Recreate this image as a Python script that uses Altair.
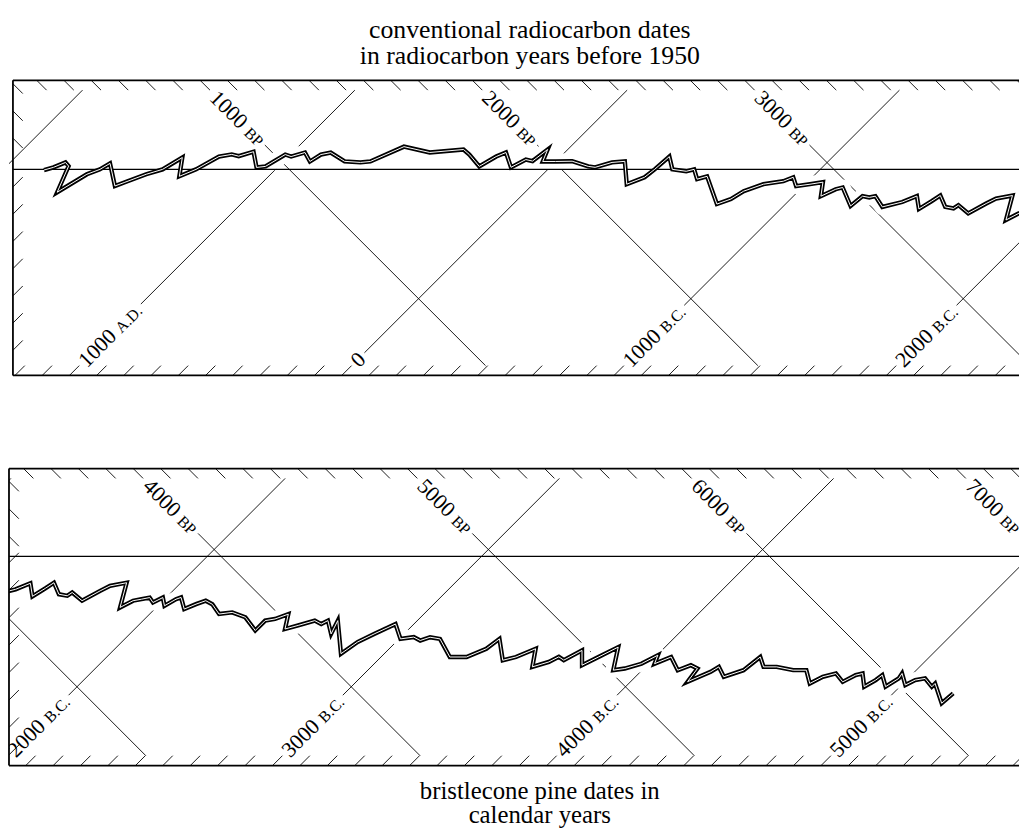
import math
import altair as alt
import pandas as pd

# ---- calibration curve: calendar age (cal BP) and radiocarbon age (14C BP)
cal_bp = [102, 127, 153, 178, 232, 275, 305, 320, 421, 444, 493, 535, 564, 622, 658, 695, 734, 766,
          804, 873, 902, 931, 960, 996, 1047, 1062, 1091, 1174, 1236, 1269, 1338, 1454, 1567, 1607,
          1687, 1713, 1734, 1807, 1833, 1863, 1876, 1902, 1949, 2009, 2087, 2116, 2160, 2203, 2294,
          2334, 2342, 2349, 2407, 2465, 2487, 2534, 2560, 2698, 2731, 2749, 2796, 2858, 2880, 2923,
          2967, 3007, 3051, 3080, 3099, 3196, 3204, 3233, 3251, 3316, 3371, 3403, 3458, 3476,
          3487, 3547, 3583, 3589, 3655, 3685, 3703, 3752, 3818, 3841, 3866, 3890, 3920, 3938, 3974,
          3992, 4004, 4058, 4083, 4106, 4143, 4203, 4245, 4311, 4395, 4395, 4425, 4456, 4498, 4533,
          4576, 4612, 4624, 4684, 4660, 4792, 4810, 4841, 4883, 4955, 4997, 5033, 5057, 5099, 5201,
          5262, 5304, 5316, 5406, 5442, 5484, 5538, 5580, 5598, 5628, 5659, 5713, 5743, 5779, 5845,
          5881, 5924, 5953, 5972, 6008, 6080, 6110, 6146, 6158, 6206, 6218, 6272, 6320, 6333, 6381,
          6429, 6501, 6549, 6610, 6633, 6669, 6724, 6747, 6766, 6820, 6838, 6844, 6898, 6916, 6910,
          6964, 6982, 7012, 7067, 7067, 7163, 7169]
c14_bp = [97, 142, 204, 202, 64, 239, 305, 364, 299, 349, 457, 535, 651, 571, 658, 789, 844, 863,
          934, 887, 924, 1040, 1054, 1120, 1105, 1171, 1214, 1233, 1287, 1327, 1505, 1578, 1713, 1716,
          1709, 1807, 1858, 1822, 1905, 1924, 2022, 1960, 2007, 2069, 2109, 2131, 2211, 2262, 2185,
          2276, 2342, 2443, 2407, 2451, 2487, 2462, 2509, 2443, 2513, 2589, 2687, 2771, 2822, 2800,
          2858, 2913, 2854, 2934, 2966, 2927, 3007, 3027, 3054, 3040, 3131, 3207, 3167, 3243,
          3295, 3271, 3296, 3326, 3332, 3434, 3488, 3560, 3446, 3518, 3554, 3590, 3584, 3638, 3614,
          3680, 3705, 3674, 3735, 3783, 3794, 3783, 3837, 3867, 3855, 3927, 3969, 4035, 3969, 4030,
          4108, 4119, 4156, 4119, 4192, 4083, 4186, 4276, 4390, 4354, 4409, 4420, 4468, 4498, 4468,
          4529, 4631, 4715, 4649, 4709, 4811, 4733, 4811, 4866, 4872, 4974, 4920, 5010, 5118, 5016,
          5064, 5142, 5233, 5190, 5275, 5251, 5317, 5329, 5245, 5365, 5413, 5395, 5491, 5600, 5576,
          5624, 5672, 5720, 5684, 5756, 5816, 5810, 5882, 5913, 5871, 5937, 5979, 5949, 6027, 6057,
          6027, 6081, 6123, 6117, 6141, 6093, 6171]

# ---- grid lines and their labels
calendar_lines_bp = [-50, 950, 1950, 2950, 3950, 4950, 5950, 6950]
calendar_numbers = ["2000", "1000", "0", "1000", "2000", "3000", "4000", "5000"]
calendar_eras = ["A.D.", "A.D.", "", "B.C.", "B.C.", "B.C.", "B.C.", "B.C."]
radiocarbon_lines_bp = [1000, 2000, 3000, 4000, 5000, 6000, 7000]
radiocarbon_numbers = ["1000", "2000", "3000", "4000", "5000", "6000", "7000"]
radiocarbon_unit = "BP"

title_top = ["conventional radiocarbon dates", "in radiocarbon years before 1950"]
title_bottom = ["bristlecone pine dates in", "calendar years"]

# ---- styling / layout constants
SERIF = "Liberation Serif"
NUM_SIZE = 22
CAPS_SIZE = 16
TICK = 36      # hatch tick length, in years along each axis
GAP = 10       # gap between a label and its line, in years
DY = round(0.34 * NUM_SIZE, 1)

ADV = {d: 0.5 for d in "0123456789"}
ADV.update({" ": 0.25, ".": 0.25, "A": 0.722, "B": 0.667, "C": 0.667, "D": 0.722, "P": 0.556})


def text_px(s, size):
    return sum(ADV.get(ch, 0.5) for ch in s) * size


def label_px(num, suffix):
    w = text_px(num, NUM_SIZE)
    if suffix:
        w += text_px(" ", NUM_SIZE) + text_px(suffix, CAPS_SIZE)
    return w


SUFFIX_DX = text_px("0000 ", NUM_SIZE)

curve = pd.DataFrame({"i": range(len(cal_bp)), "cal": cal_bp, "c14": c14_bp})
cal_lines = pd.DataFrame({"value": calendar_lines_bp, "num": calendar_numbers, "era": calendar_eras})
cal_lines["len_px"] = [label_px(n, e) for n, e in zip(calendar_numbers, calendar_eras)]
c14_lines = pd.DataFrame({"value": radiocarbon_lines_bp, "num": radiocarbon_numbers})
c14_lines["unit"] = radiocarbon_unit
c14_lines["len_px"] = [label_px(n, radiocarbon_unit) for n in radiocarbon_numbers]


def panel(u0, u1, ul, vt, vb, width, height, title):
    k = width / (u1 - u0)
    diag = k * math.sqrt(2)
    xs = alt.Scale(domain=[u0, u1], nice=False, zero=False)
    ys = alt.Scale(domain=[vt, vb], nice=False, zero=False, reverse=True)

    def seg_enc():
        return dict(
            x=alt.X("u_a:Q", scale=xs, axis=None),
            y=alt.Y("v_a:Q", scale=ys, axis=None),
            x2=alt.X2("u_b"),
            y2=alt.Y2("v_b"),
        )

    def pt_enc(u="u", v="v"):
        return dict(
            x=alt.X(f"{u}:Q", scale=xs, axis=None),
            y=alt.Y(f"{v}:Q", scale=ys, axis=None),
        )

    thin = dict(color="black", strokeWidth=0.9, clip=True)

    # radiocarbon (constant BP) lines: run down-right, start below their label
    r_lines = alt.Chart(c14_lines).transform_calculate(
        v_a=f"{vt + 50} + datum.len_px / {diag} + {GAP}"
    ).transform_calculate(
        v_b=f"{vb - TICK}"
    ).transform_calculate(
        u_a="datum.value + datum.v_a", u_b="datum.value + datum.v_b"
    ).mark_rule(**thin).encode(**seg_enc())

    # calendar lines: run up-right, start above their label
    c_lines = alt.Chart(cal_lines).transform_calculate(
        v_a=f"{vb - 45} - datum.len_px / {diag} - {GAP}"
    ).transform_calculate(
        v_b=f"{vt + TICK}"
    ).transform_calculate(
        u_a="datum.value - datum.v_a", u_b="datum.value - datum.v_b"
    ).mark_rule(**thin).encode(**seg_enc())

    curve_base = alt.Chart(curve).transform_calculate(
        u="(datum.cal + datum.c14) / 2", v="(datum.cal - datum.c14) / 2"
    )
    halo = curve_base.mark_line(color="white", strokeWidth=16, strokeCap="round",
                                strokeJoin="round", clip=True).encode(
        order=alt.Order("i:Q"), **pt_enc())

    zero = alt.Chart(pd.DataFrame({"u_a": [ul], "v_a": [0], "u_b": [u1], "v_b": [0]})).mark_rule(
        color="black", strokeWidth=1.2, clip=True).encode(**seg_enc())

    # hatch ticks every hundred years along the frame
    top_ticks = alt.Chart(alt.sequence(0, 8001, 100, as_="t")).transform_calculate(
        u_a=f"datum.t + {vt}", v_a=f"{vt}", u_b=f"datum.t + {vt + TICK}", v_b=f"{vt + TICK}"
    ).transform_filter(f"datum.u_a >= {ul} && datum.u_a <= {u1}").mark_rule(**thin).encode(**seg_enc())
    bot_ticks = alt.Chart(alt.sequence(50, 8051, 100, as_="t")).transform_calculate(
        u_a=f"datum.t - {vb}", v_a=f"{vb}", u_b=f"datum.t - {vb - TICK}", v_b=f"{vb - TICK}"
    ).transform_filter(f"datum.u_a >= {ul} && datum.u_a <= {u1}").mark_rule(**thin).encode(**seg_enc())
    left_r = alt.Chart(alt.sequence(0, 8001, 100, as_="t")).transform_calculate(
        v_a=f"{ul} - datum.t"
    ).transform_calculate(
        u_a=f"{ul}", u_b=f"{ul + TICK}", v_b=f"datum.v_a + {TICK}"
    ).transform_filter(f"datum.v_a > {vt} && datum.v_a < {-TICK / 2}").mark_rule(**thin).encode(**seg_enc())
    left_c = alt.Chart(alt.sequence(50, 8051, 100, as_="t")).transform_calculate(
        v_a=f"datum.t - {ul}"
    ).transform_calculate(
        u_a=f"{ul}", u_b=f"{ul + TICK}", v_b=f"datum.v_a - {TICK}"
    ).transform_filter(f"datum.v_a > {TICK / 2} && datum.v_a < {vb}").mark_rule(**thin).encode(**seg_enc())

    txt = dict(font=SERIF, color="black", align="left", baseline="alphabetic", dy=DY, clip=True)
    r_base = alt.Chart(c14_lines).transform_calculate(
        v=f"{vt + 50}").transform_calculate(u="datum.value + datum.v")
    r_num = r_base.mark_text(angle=45, fontSize=NUM_SIZE, **txt).encode(text="num:N", **pt_enc())
    r_unit = r_base.mark_text(angle=45, fontSize=CAPS_SIZE, dx=SUFFIX_DX, **txt).encode(
        text="unit:N", **pt_enc())
    c_base = alt.Chart(cal_lines).transform_calculate(
        v=f"{vb - 45}").transform_calculate(u="datum.value - datum.v")
    c_num = c_base.mark_text(angle=315, fontSize=NUM_SIZE, **txt).encode(text="num:N", **pt_enc())
    c_era = c_base.mark_text(angle=315, fontSize=CAPS_SIZE, dx=SUFFIX_DX, **txt).encode(
        text="era:N", **pt_enc())

    curve_outer = curve_base.mark_line(color="black", strokeWidth=4.4, strokeJoin="miter",
                                       strokeMiterLimit=5, clip=True).encode(
        order=alt.Order("i:Q"), **pt_enc())
    curve_inner = curve_base.mark_line(color="white", strokeWidth=1.0, strokeJoin="miter",
                                       strokeMiterLimit=5, clip=True).encode(
        order=alt.Order("i:Q"), **pt_enc())

    frame = alt.Chart(pd.DataFrame({
        "u_a": [ul, ul, ul], "v_a": [vt, vb, vt], "u_b": [u1, u1, ul], "v_b": [vt, vb, vb]
    })).mark_rule(color="black", strokeWidth=1.8).encode(**seg_enc())

    return alt.layer(
        r_lines, c_lines, halo, zero, top_ticks, bot_ticks, left_r, left_c,
        r_num, r_unit, c_num, c_era, curve_outer, curve_inner, frame
    ).properties(width=width, height=height, title=title)


top = panel(u0=-29, u1=3680, ul=-14.5, vt=-327, vb=757, width=1020, height=298,
            title=alt.TitleParams(text=title_top, font=SERIF, fontSize=26, fontWeight="normal",
                                  lineHeight=26, anchor="middle", dx=16, offset=-15,
                                  baseline="bottom", color="black"))
bottom = panel(u0=3227, u1=6910, ul=3227, vt=-320, vb=762, width=1020, height=300,
               title=alt.TitleParams(text=title_bottom, orient="bottom", font=SERIF, fontSize=25,
                                     fontWeight="normal", lineHeight=24, anchor="middle", dx=26,
                                     offset=13, baseline="top", color="black"))

chart = alt.vconcat(top, bottom, spacing=92).resolve_scale(
    x="independent", y="independent"
).properties(padding={"top": 5, "left": 0, "right": 0, "bottom": 0}).configure_view(stroke=None)

chart.save("out.html", embed_options={"renderer": "svg", "actions": False})
